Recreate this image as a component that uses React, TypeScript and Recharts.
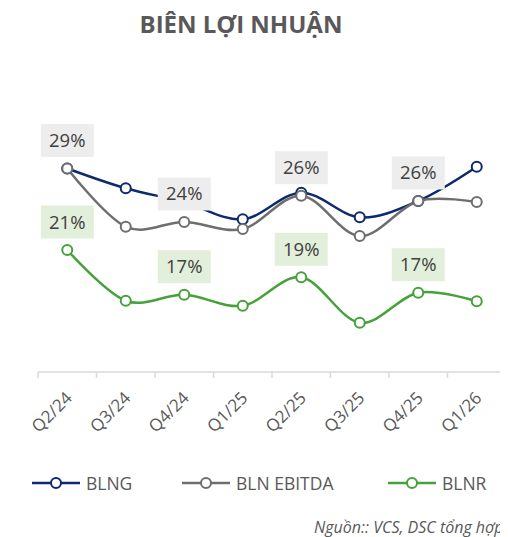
import React from "react";
import { LineChart, Line, XAxis, YAxis } from "recharts";

const categories = ["Q2/24", "Q3/24", "Q4/24", "Q1/25", "Q2/25", "Q3/25", "Q4/25", "Q1/26"];
const blng = [28.5, 26.7, 25.45, 23.88, 26.3, 24.06, 25.55, 28.66];
const ebitda = [28.5, 23.21, 23.64, 23.0, 26.03, 22.36, 25.55, 25.45];
const blnr = [21.09, 16.48, 17.03, 16.03, 18.61, 14.48, 17.21, 16.43];
const labelIdx = [0, 2, 4, 6];

const seriesNames = ["BLNG", "BLN EBITDA", "BLNR"];
const seriesKeys = ["blng", "ebitda", "blnr"];
const colors = ["#0d2a6e", "#6e6e6e", "#45a13a"];
const labelBg = ["#ededed", "#ededed", "#e2efda"];

const data = categories.map((c, i) => ({
  name: c,
  blng: blng[i],
  ebitda: ebitda[i],
  blnr: blnr[i],
}));

const FONT = "'Open Sans', 'Noto Sans', sans-serif";

// Cardinal (Catmull-Rom like) curve factory, similar to Excel smoothing
function makeCardinal(tension: number) {
  const k = (1 - tension) / 6;
  return (context: any) => {
    let x0 = NaN, x1 = NaN, x2 = NaN, y0 = NaN, y1 = NaN, y2 = NaN;
    let pt = 0;
    let line: number = NaN;
    const seg = (x: number, y: number) => {
      context.bezierCurveTo(
        x1 + k * (x2 - x0),
        y1 + k * (y2 - y0),
        x2 + k * (x1 - x),
        y2 + k * (y1 - y),
        x2,
        y2
      );
    };
    return {
      areaStart() { line = 0; },
      areaEnd() { line = NaN; },
      lineStart() { x0 = x1 = x2 = y0 = y1 = y2 = NaN; pt = 0; },
      lineEnd() {
        if (pt === 2) context.lineTo(x2, y2);
        else if (pt === 3) seg(x1, y1);
        if (line || (line !== 0 && pt === 1)) context.closePath();
        line = 1 - line;
      },
      point(x: number, y: number) {
        x = +x; y = +y;
        if (pt === 0) {
          pt = 1;
          line ? context.lineTo(x, y) : context.moveTo(x, y);
        } else if (pt === 1) {
          pt = 2;
          x1 = x; y1 = y;
        } else {
          pt = 3;
          seg(x, y);
        }
        x0 = x1; x1 = x2; x2 = x;
        y0 = y1; y1 = y2; y2 = y;
      },
    };
  };
}
const smooth = makeCardinal(0) as any;

const makeLabel = (bg: string) => (props: any) => {
  const { x, y, value, index } = props;
  if (!labelIdx.includes(index)) return null;
  const w = 53;
  const h = 33;
  const cy = y - 28;
  return (
    <g>
      <rect x={x - w / 2} y={cy - h / 2} width={w} height={h} fill={bg} />
      <text
        x={x}
        y={cy + 6.5}
        textAnchor="middle"
        fontSize={18.5}
        fontFamily={FONT}
        fill="#404040"
      >
        {Math.round(value) + "%"}
      </text>
    </g>
  );
};

const AxisTick = (props: any) => {
  const { x, y, payload, index } = props;
  const half = 29.25;
  const ay = y - 8;
  const tx = x + 6;
  const ty = ay + 27;
  return (
    <g>
      <line x1={x - half} y1={ay} x2={x - half} y2={ay + 6} stroke="#d9d9d9" strokeWidth={1.5} />
      {index === categories.length - 1 ? (
        <line x1={x + half} y1={ay} x2={x + half} y2={ay + 6} stroke="#d9d9d9" strokeWidth={1.5} />
      ) : null}
      <text
        x={tx}
        y={ty}
        transform={`rotate(-45, ${tx}, ${ty})`}
        textAnchor="end"
        fontSize={17}
        fontFamily={FONT}
        fill="#595959"
      >
        {payload.value}
      </text>
    </g>
  );
};

const legendPos = [24, 174, 380];

export default function App() {
  return (
    <div style={{ position: "relative", width: 500, height: 529, overflow: "hidden", background: "#fff", fontFamily: FONT }}>
      <div
        style={{
          position: "absolute",
          left: 0,
          top: 3,
          width: 466,
          textAlign: "center",
          fontSize: 24,
          lineHeight: "25px",
          fontWeight: 700,
          color: "#595959",
        }}
      >
        BIÊN LỢI NHUẬN
      </div>
      <div style={{ position: "absolute", left: 0, top: 0 }}>
        <LineChart width={500} height={500} data={data} margin={{ top: 89, right: 2, left: 30, bottom: 76 }}>
          <XAxis
            dataKey="name"
            scale="band"
            height={60}
            axisLine={{ stroke: "#d9d9d9", strokeWidth: 1.5 }}
            tickLine={false}
            tick={<AxisTick />}
            interval={0}
          />
          <YAxis hide domain={[10, 35]} />
          {seriesKeys.map((k, i) => (
            <Line
              key={k}
              dataKey={k}
              name={seriesNames[i]}
              type={smooth}
              stroke={colors[i]}
              strokeWidth={2.5}
              dot={{ r: 5, fill: "#fff", stroke: colors[i], strokeWidth: 2 }}
              isAnimationActive={false}
              label={i === 0 ? undefined : makeLabel(labelBg[i])}
            />
          ))}
        </LineChart>
      </div>
      {seriesNames.map((n, i) => (
        <div
          key={n}
          style={{ position: "absolute", left: legendPos[i], top: 463, height: 24, display: "flex", alignItems: "center" }}
        >
          <svg width={50} height={24}>
            <line x1={0} y1={12} x2={48} y2={12} stroke={colors[i]} strokeWidth={2.5} />
            <circle cx={24} cy={12} r={5} fill="#fff" stroke={colors[i]} strokeWidth={2} />
          </svg>
          <span style={{ marginLeft: 4, fontSize: 17.5, color: "#595959", whiteSpace: "nowrap" }}>{n}</span>
        </div>
      ))}
      <div
        style={{
          position: "absolute",
          left: 306,
          top: 508,
          fontSize: 16,
          fontStyle: "italic",
          color: "#595959",
          whiteSpace: "nowrap",
        }}
      >
        Nguồn:: VCS, DSC tổng hợp
      </div>
    </div>
  );
}
